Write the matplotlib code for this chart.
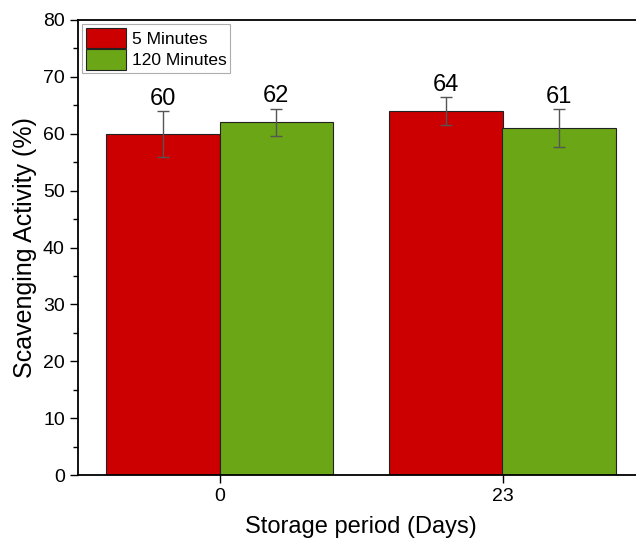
import matplotlib
matplotlib.use("Agg")
import matplotlib.pyplot as plt
import numpy as np
from matplotlib.ticker import MultipleLocator

plt.rcParams['font.family'] = ['Liberation Sans', 'DejaVu Sans']

categories = ["0", "23"]
series_names = ["5 Minutes", "120 Minutes"]
values_5 = [60, 64]
values_120 = [62, 61]
err_5 = [4.0, 2.4]
err_120 = [2.4, 3.35]
colors = ["#CC0000", "#6AA616"]

fig = plt.figure(figsize=(6.36, 5.46), dpi=100)
ax = fig.add_axes([78/636, 71/546, 566/636, 455/546])

x = np.arange(len(categories))
w = 0.4
ekw = dict(ecolor="#555555", elinewidth=1.0, capsize=4, capthick=1.0)
ax.bar(x - w/2, values_5, w, yerr=err_5, color=colors[0], edgecolor="#222222",
       linewidth=0.8, label=series_names[0], error_kw=ekw)
ax.bar(x + w/2, values_120, w, yerr=err_120, color=colors[1], edgecolor="#222222",
       linewidth=0.8, label=series_names[1], error_kw=ekw)

for xs, vals, errs in [(x - w/2, values_5, err_5), (x + w/2, values_120, err_120)]:
    for xi, v, e in zip(xs, vals, errs):
        ax.annotate(f"{v}", (xi, v + e), xytext=(0, 1), textcoords="offset points",
                    ha="center", va="bottom", fontsize=17)

ax.set_xlim(-0.5, 1.5)
ax.set_ylim(0, 80)
ax.set_xticks(x)
ax.set_xticklabels(categories)
ax.yaxis.set_major_locator(MultipleLocator(10))
ax.yaxis.set_minor_locator(MultipleLocator(5))
ax.tick_params(axis='both', which='major', direction='out', length=6, width=1.0, labelsize=14)
ax.tick_params(axis='y', which='minor', direction='out', length=3.5, width=1.0)
for s in ax.spines.values():
    s.set_linewidth(1.3)
ax.spines['right'].set_visible(False)

ax.set_xlabel("Storage period (Days)", fontsize=17, labelpad=8)
ax.set_ylabel("Scavenging Activity (%)", fontsize=18, labelpad=4)

leg = ax.legend(loc="upper left", fontsize=12.5, frameon=True, fancybox=False,
                edgecolor="#999999", handlelength=2.3, handleheight=1.45,
                handletextpad=0.35, borderpad=0.2, labelspacing=0.05,
                borderaxespad=0.25)
leg.get_frame().set_linewidth(0.8)

fig.savefig("out.png", dpi=100)
